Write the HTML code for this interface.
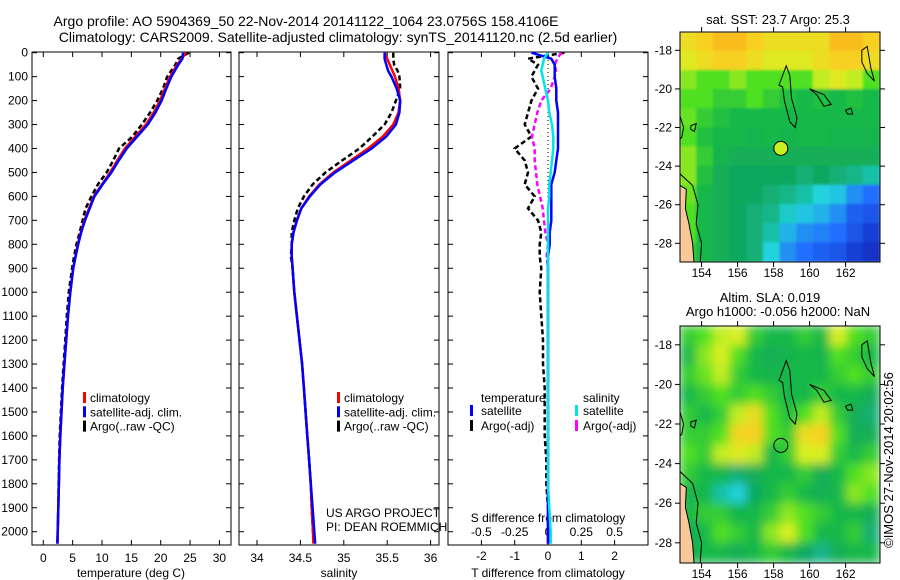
<!DOCTYPE html>
<html><head><meta charset="utf-8"><style>
body{margin:0;background:#fff;}
svg{display:block;font-family:"Liberation Sans",sans-serif;font-size:12px;}
</style></head><body>
<svg id="c" width="900" height="580" viewBox="0 0 900 580">
<defs>
<clipPath id="cp1"><rect x="32" y="52" width="199" height="493"/></clipPath>
<clipPath id="cp2"><rect x="239" y="52" width="200" height="493"/></clipPath>
<clipPath id="cp3"><rect x="448" y="52" width="200" height="493"/></clipPath>
<clipPath id="cm1"><rect x="680" y="32" width="200" height="230"/></clipPath>
<clipPath id="cm2"><rect x="680" y="326" width="200" height="237"/></clipPath>
<filter id="bl" x="-5%" y="-5%" width="110%" height="110%"><feGaussianBlur stdDeviation="5"/></filter>
<filter id="bl2"><feGaussianBlur stdDeviation="1.2"/></filter>
</defs>
<text x="306" y="26" text-anchor="middle" font-size="14">Argo profile: AO 5904369_50 22-Nov-2014 20141122_1064 23.0756S 158.4106E</text>
<text x="338" y="42" text-anchor="middle" font-size="14">Climatology: CARS2009. Satellite-adjusted climatology: synTS_20141120.nc (2.5d earlier)</text>
<g id="g"></g>
<text x="778" y="24" text-anchor="middle" font-size="13">sat. SST: 23.7 Argo: 25.3</text>
<text x="770" y="302" text-anchor="middle" font-size="13">Altim. SLA: 0.019</text>
<text x="778" y="316" text-anchor="middle" font-size="13">Argo h1000: -0.056 h2000: NaN</text>
<text transform="translate(893,460) rotate(-90)" text-anchor="middle" font-size="13">©IMOS 27-Nov-2014 20:02:56</text>
</svg>
<script>
const depths=[0,25,50,75,100,150,200,250,300,350,400,450,500,550,600,650,700,750,800,850,900,1000,1100,1200,1300,1400,1500,1600,1700,1800,1900,2000,2050];
const tClim=[24.3,23.6,22.8,22.2,21.6,20.7,19.9,18.8,17.5,15.7,13.9,12.6,11.4,10.0,8.6,7.8,7.0,6.4,5.9,5.5,5.1,4.6,4.2,3.9,3.6,3.3,3.1,2.9,2.75,2.65,2.55,2.45,2.4];
const tSat=[23.8,23.7,23.0,22.4,21.8,20.95,20.15,19.1,17.8,16.0,14.2,12.85,11.6,10.1,8.7,7.9,7.1,6.45,5.95,5.5,5.1,4.6,4.2,3.9,3.6,3.3,3.1,2.9,2.75,2.65,2.55,2.45,2.4];
const tArgo=[24.8,23.0,22.5,21.8,21.1,20.4,19.4,18.2,16.8,15.2,12.9,11.9,10.8,9.3,8.2,7.2,6.7,6.2,5.65,5.25,4.9,4.35,4.0,3.75,3.45,3.2,3.0,2.8,2.7,2.6,2.55,2.45,2.4];
const sClim=[35.47,35.50,35.53,35.56,35.59,35.63,35.65,35.63,35.57,35.45,35.28,35.08,34.88,34.72,34.60,34.51,34.46,34.42,34.40,34.40,34.41,34.43,34.46,34.49,34.52,34.54,34.56,34.58,34.60,34.62,34.63,34.645,34.65];
const sSat=[35.47,35.47,35.49,35.51,35.55,35.61,35.65,35.64,35.60,35.49,35.32,35.11,34.90,34.73,34.61,34.51,34.46,34.42,34.40,34.40,34.41,34.43,34.46,34.49,34.52,34.54,34.56,34.58,34.60,34.62,34.64,34.66,34.67];
const sArgo=[35.57,35.57,35.58,35.62,35.64,35.65,35.60,35.55,35.47,35.33,35.18,34.98,34.79,34.64,34.54,34.47,34.43,34.40,34.40,34.39,34.41,34.43,34.46,34.49,34.52,34.54,34.56,34.58,34.60,34.62,34.63,34.645,34.65];
const tSatDiff=[-0.5,0.1,0.2,0.2,0.2,0.25,0.25,0.3,0.3,0.3,0.3,0.25,0.2,0.1,0.1,0.1,0.1,0.05,0.05,0,0,0,0,0,0,0,0,0,0,0,0,0,0];
const tArgoDiff=[0.5,-0.6,-0.3,-0.4,-0.5,-0.3,-0.5,-0.6,-0.7,-0.5,-1.0,-0.7,-0.6,-0.7,-0.4,-0.6,-0.3,-0.2,-0.25,-0.25,-0.2,-0.25,-0.2,-0.15,-0.15,-0.1,-0.1,-0.1,-0.05,-0.05,0,0,0];
const sSatDiff=[0,-0.03,-0.04,-0.05,-0.04,-0.02,0,0.01,0.03,0.04,0.04,0.03,0.02,0.01,0.01,0,0,0,0,0,0,0,0,0,0,0,0,0,0,0,0.01,0.02,0.02];
const sArgoDiff=[0.1,0.07,0.05,0.06,0.05,0.02,-0.05,-0.08,-0.1,-0.12,-0.1,-0.1,-0.09,-0.08,-0.06,-0.04,-0.03,-0.02,0,-0.01,0,0,0,0,0,0,0,0,0,0,0,0,0];
const depthTicks=[0,100,200,300,400,500,600,700,800,900,1000,1100,1200,1300,1400,1500,1600,1700,1800,1900,2000];
const tTicks=[0,5,10,15,20,25,30];
const sTicks=[34,34.5,35,35.5,36];
const dTTicks=[-2,-1,0,1,2];
const dSTicks=[-0.5,-0.25,0,0.25,0.5];
const dSLabels=["-0.5","-0.25","0","0.25","0.5"];
const latTicks=[-18,-20,-22,-24,-26,-28];
const latTicks2=[-18,-20,-22,-24,-26,-28];
const lonTicks=[154,156,158,160,162];
const sstGrid=[
[0.8,0.85,0.9,0.9,0.85,0.8,0.8,0.8,0.8,0.9,0.9,0.85],
[0.75,0.8,0.85,0.85,0.8,0.75,0.75,0.75,0.8,0.85,0.85,0.8],
[0.65,0.6,0.6,0.65,0.6,0.6,0.6,0.6,0.7,0.75,0.7,0.6],
[0.6,0.6,0.55,0.55,0.6,0.55,0.52,0.5,0.52,0.5,0.52,0.5],
[0.62,0.55,0.52,0.5,0.5,0.5,0.5,0.5,0.5,0.5,0.5,0.5],
[0.6,0.52,0.5,0.5,0.48,0.5,0.48,0.5,0.5,0.48,0.48,0.48],
[0.65,0.55,0.48,0.45,0.45,0.45,0.45,0.45,0.45,0.45,0.45,0.45],
[0.65,0.52,0.45,0.42,0.42,0.43,0.42,0.4,0.42,0.4,0.38,0.35],
[0.62,0.5,0.45,0.42,0.42,0.4,0.38,0.35,0.3,0.28,0.2,0.15],
[0.6,0.5,0.45,0.42,0.4,0.38,0.32,0.28,0.25,0.2,0.12,0.1],
[0.6,0.5,0.45,0.42,0.4,0.35,0.25,0.2,0.18,0.15,0.1,0.05],
[0.55,0.5,0.45,0.42,0.4,0.3,0.2,0.15,0.12,0.1,0.05,0.02]];
const slaGrid=[
[0.55,0.6,0.7,0.72,0.55,0.5,0.5,0.55,0.5,0.72,0.6,0.55],
[0.5,0.65,0.72,0.6,0.5,0.45,0.48,0.5,0.48,0.6,0.55,0.5],
[0.55,0.62,0.7,0.55,0.5,0.48,0.5,0.5,0.5,0.55,0.6,0.55],
[0.5,0.55,0.6,0.55,0.6,0.55,0.5,0.5,0.55,0.5,0.5,0.45],
[0.55,0.5,0.55,0.7,0.8,0.6,0.52,0.6,0.7,0.55,0.45,0.4],
[0.55,0.55,0.6,0.82,0.85,0.6,0.55,0.8,0.85,0.6,0.45,0.45],
[0.6,0.55,0.7,0.75,0.7,0.5,0.55,0.72,0.72,0.55,0.5,0.55],
[0.55,0.5,0.5,0.4,0.45,0.5,0.5,0.55,0.45,0.5,0.6,0.65],
[0.5,0.5,0.35,0.3,0.42,0.5,0.55,0.5,0.45,0.5,0.65,0.6],
[0.5,0.55,0.55,0.48,0.5,0.55,0.65,0.6,0.55,0.5,0.5,0.45],
[0.45,0.5,0.6,0.55,0.5,0.65,0.72,0.6,0.5,0.5,0.55,0.4],
[0.45,0.5,0.5,0.45,0.5,0.55,0.5,0.42,0.38,0.45,0.5,0.5]];

const NS='http://www.w3.org/2000/svg';
const G=document.getElementById('g');
function mk(t,a,p){const e=document.createElementNS(NS,t);for(const k in a)e.setAttribute(k,a[k]);(p||G).appendChild(e);return e;}
const yD=d=>52.7+d*0.2395;
const xT=t=>43.3+t*5.87;
const xS=s=>257+(s-34)*86.8;
const xDT=t=>548+t*33.3;
const xDS=s=>548+s*133.2;
const LON0=152.8,LAT0=-17.05;
const xLon=l=>680+(l-LON0)*18.0;
const yLat1=l=>32+(LAT0-l)*19.3;
const yLat2=l=>326+(LAT0-l)*19.8;

function panel(x,w,name){const r=mk('rect',{x:x,y:52,width:w,height:493,fill:'none',stroke:'#000','stroke-width':1});

}
function line(vals,xf,color,width,dash,clip,name){
  let d='';vals.forEach((v,i)=>{d+=(i?'L':'M')+xf(v).toFixed(1)+','+yD(depths[i]).toFixed(1);});
  const p=mk('path',{d:d,fill:'none',stroke:color,'stroke-width':width,'clip-path':'url(#'+clip+')'});
  if(dash)p.setAttribute('stroke-dasharray',dash);
  
  
}
function txt(x,y,s,anchor,name,color){const t=mk('text',{x:x,y:y,'text-anchor':anchor||'start',fill:color||'#000'});t.textContent=s;

return t;}
function tick(x1,y1,x2,y2){const l=mk('line',{x1:x1,y1:y1,x2:x2,y2:y2,stroke:'#000'});

}
function legMark(x,y,color){const r=mk('rect',{x:x,y:y-10,width:3,height:11,fill:color});

}

depthTicks.forEach(d=>{txt(28,yD(d)+4,String(d),'end','depth-tick-label');
 [32,239,448].forEach(x=>{tick(x,yD(d),x+5,yD(d));});
 [231,439,648].forEach(x=>{tick(x,yD(d),x-5,yD(d));});});
panel(32,199,'temperature-panel');
tTicks.forEach(t=>{tick(xT(t),52,xT(t),57);tick(xT(t),545,xT(t),540);txt(xT(t),562,String(t),'middle','temperature-tick-label');});
txt(131,577,'temperature (deg C)','middle','temperature-axis-title');
line(tArgo,xT,'#000',2.5,'5,3','cp1','temperature-argo-line');
line(tClim,xT,'#f00',2.5,null,'cp1','temperature-climatology-line');
line(tSat,xT,'#0000ff',2.5,null,'cp1','temperature-satellite-line');
[['climatology','#f00'],['satellite-adj. clim.','#0000ff'],['Argo(..raw -QC)','#000']].forEach((a,i)=>{legMark(83,402+i*14.3,a[1]);txt(90,402+i*14.3,a[0],'start','temperature-legend-entry');});
panel(239,200,'salinity-panel');
sTicks.forEach(s=>{tick(xS(s),52,xS(s),57);tick(xS(s),545,xS(s),540);txt(xS(s),562,String(s),'middle','salinity-tick-label');});
txt(339,577,'salinity','middle','salinity-axis-title');
line(sArgo,xS,'#000',2.5,'5,3','cp2','salinity-argo-line');
line(sClim,xS,'#f00',2.5,null,'cp2','salinity-climatology-line');
line(sSat,xS,'#0000ff',2.5,null,'cp2','salinity-satellite-line');
[['climatology','#f00'],['satellite-adj. clim.','#0000ff'],['Argo(..raw -QC)','#000']].forEach((a,i)=>{legMark(337,402+i*14.3,a[1]);txt(344,402+i*14.3,a[0],'start','salinity-legend-entry');});
txt(326,517,'US ARGO PROJECT','start','project-label');
txt(326,531,'PI: DEAN ROEMMICH','start','pi-label');
panel(448,200,'difference-panel');
dTTicks.forEach(t=>{tick(xDT(t),52,xDT(t),57);tick(xDT(t),545,xDT(t),540);txt(xDT(t),560,String(t),'middle','t-difference-tick-label');});
dSTicks.forEach((s,i)=>{txt(xDS(s),536,dSLabels[i],'middle','s-difference-tick-label');});
txt(548,522,'S difference from climatology','middle','s-difference-axis-title');
txt(548,577,'T difference from climatology','middle','t-difference-axis-title');
const zl=mk('line',{x1:548,y1:52,x2:548,y2:300,stroke:'#000','stroke-dasharray':'1,3'});


line(tArgoDiff,xDT,'#000',2.5,'5,3','cp3','t-argo-difference-line');
line(sArgoDiff,xDS,'#ff00ff',2.5,'5,3','cp3','s-argo-difference-line');
line(tSatDiff,xDT,'#0000ff',2.5,null,'cp3','t-satellite-difference-line');
line(sSatDiff,xDS,'#00e5e5',2.5,null,'cp3','s-satellite-difference-line');
txt(481,402,'temperature','start','diff-legend-temperature-header');
txt(583,402,'salinity','start','diff-legend-salinity-header');
legMark(470,415,'#0000ff');txt(481,415,'satellite','start','diff-legend-entry');
legMark(470,430,'#000');txt(481,430,'Argo(-adj)','start','diff-legend-entry');
legMark(575,415,'#00e5e5');txt(583,415,'satellite','start','diff-legend-entry');
legMark(575,430,'#ff00ff');txt(583,430,'Argo(-adj)','start','diff-legend-entry');

const stops=[[0,[16,40,190]],[0.15,[32,110,255]],[0.3,[32,210,220]],[0.42,[16,168,96]],[0.5,[24,184,72]],[0.6,[80,224,32]],[0.72,[216,240,32]],[0.85,[248,208,32]],[1,[248,152,24]]];
function cmap(v){for(let i=1;i<stops.length;i++){if(v<=stops[i][0]){const a=stops[i-1],b=stops[i],f=(v-a[0])/(b[0]-a[0]);return 'rgb('+a[1].map((c,k)=>Math.round(c+(b[1][k]-c)*f)).join(',')+')';}}return 'rgb(248,152,24)';}
function drawMap(grid,top,h,yLat,clip,filter,name,ticks){
  const g=mk('g',{'clip-path':'url(#'+clip+')'});
  
  
  const inner=mk('g',{filter:filter},g);
  const rows=grid.length,cols=grid[0].length,cw=200/cols,ch=h/rows;
  mk('rect',{x:680,y:top,width:200,height:h,fill:cmap(0.5)},inner);
  grid.forEach((row,r)=>row.forEach((v,c)=>{
    const cell=mk('rect',{x:680+c*cw-0.5,y:top+r*ch-0.5,width:cw+1,height:ch+1,fill:cmap(v)},inner);
    
    
  }));
  const P=pts=>pts.map((p,i)=>(i?'L':'M')+xLon(p[0]).toFixed(1)+','+yLat(p[1]).toFixed(1)).join('')+'Z';
  const land=mk('path',{d:P([[152.8,-25.0],[153.15,-25.2],[153.1,-26.2],[153.3,-27.0],[153.5,-28.0],[153.6,-29.3],[152.8,-29.3]]),fill:'#f8c898',stroke:'#000','stroke-width':1},g);
  
  
  const coast=[[[152.8,-24.4],[153.5,-25.0],[153.8,-26.0],[153.7,-27.0],[154.0,-28.0],[153.9,-29.3]],
   [[152.8,-21.4],[153.0,-22.0],[152.9,-22.5],[152.8,-22.6]]];
  coast.forEach(c=>{const p=mk('path',{d:P(c).replace('Z',''),fill:'none',stroke:'#000','stroke-width':1},g);
   
   });
  const isl=[[[158.5,-19.3],[158.7,-18.8],[158.9,-19.3],[159.0,-20.5],[159.3,-21.5],[159.2,-22.0],[158.9,-21.7],[158.6,-20.6],[158.5,-19.9],[158.3,-19.8]],
   [[160.0,-20.0],[160.8,-20.3],[161.2,-20.8],[160.8,-20.9],[160.4,-20.3]],
   [[162.0,-21.1],[162.3,-21.0],[162.4,-21.3],[162.1,-21.3]],
   [[153.4,-21.9],[153.7,-21.8],[153.6,-22.2],[153.4,-22.1]],
   [[162.9,-18.0],[163.2,-17.8],[163.4,-18.9],[163.6,-19.6],[163.2,-19.2],[162.9,-18.6]]];
  isl.forEach(c=>{const p=mk('path',{d:P(c),fill:'none',stroke:'#000','stroke-width':1},g);
   
   });
  const ci=mk('circle',{cx:xLon(158.4),cy:yLat(-23.08),r:7,fill:filter==='url(#bl)'?'none':'#c8f020',stroke:'#000','stroke-width':1},g);
  
  
  const fr=mk('rect',{x:680,y:top,width:200,height:h,fill:'none',stroke:'#000'});
  
  
  ticks.forEach(l=>{tick(680,yLat(l),675,yLat(l));tick(880,yLat(l),885,yLat(l));txt(672,yLat(l)+4,String(l),'end','latitude-tick-label');});
  lonTicks.forEach(l=>{tick(xLon(l),top,xLon(l),top-5);tick(xLon(l),top+h,xLon(l),top+h+5);txt(xLon(l),top+h+15,String(l),'middle','longitude-tick-label');});
}
drawMap(sstGrid,32,230,yLat1,'cm1','url(#bl2)','sst-map',latTicks);
drawMap(slaGrid,326,237,yLat2,'cm2','url(#bl)','sla-map',latTicks2);
</script>
</body></html>
